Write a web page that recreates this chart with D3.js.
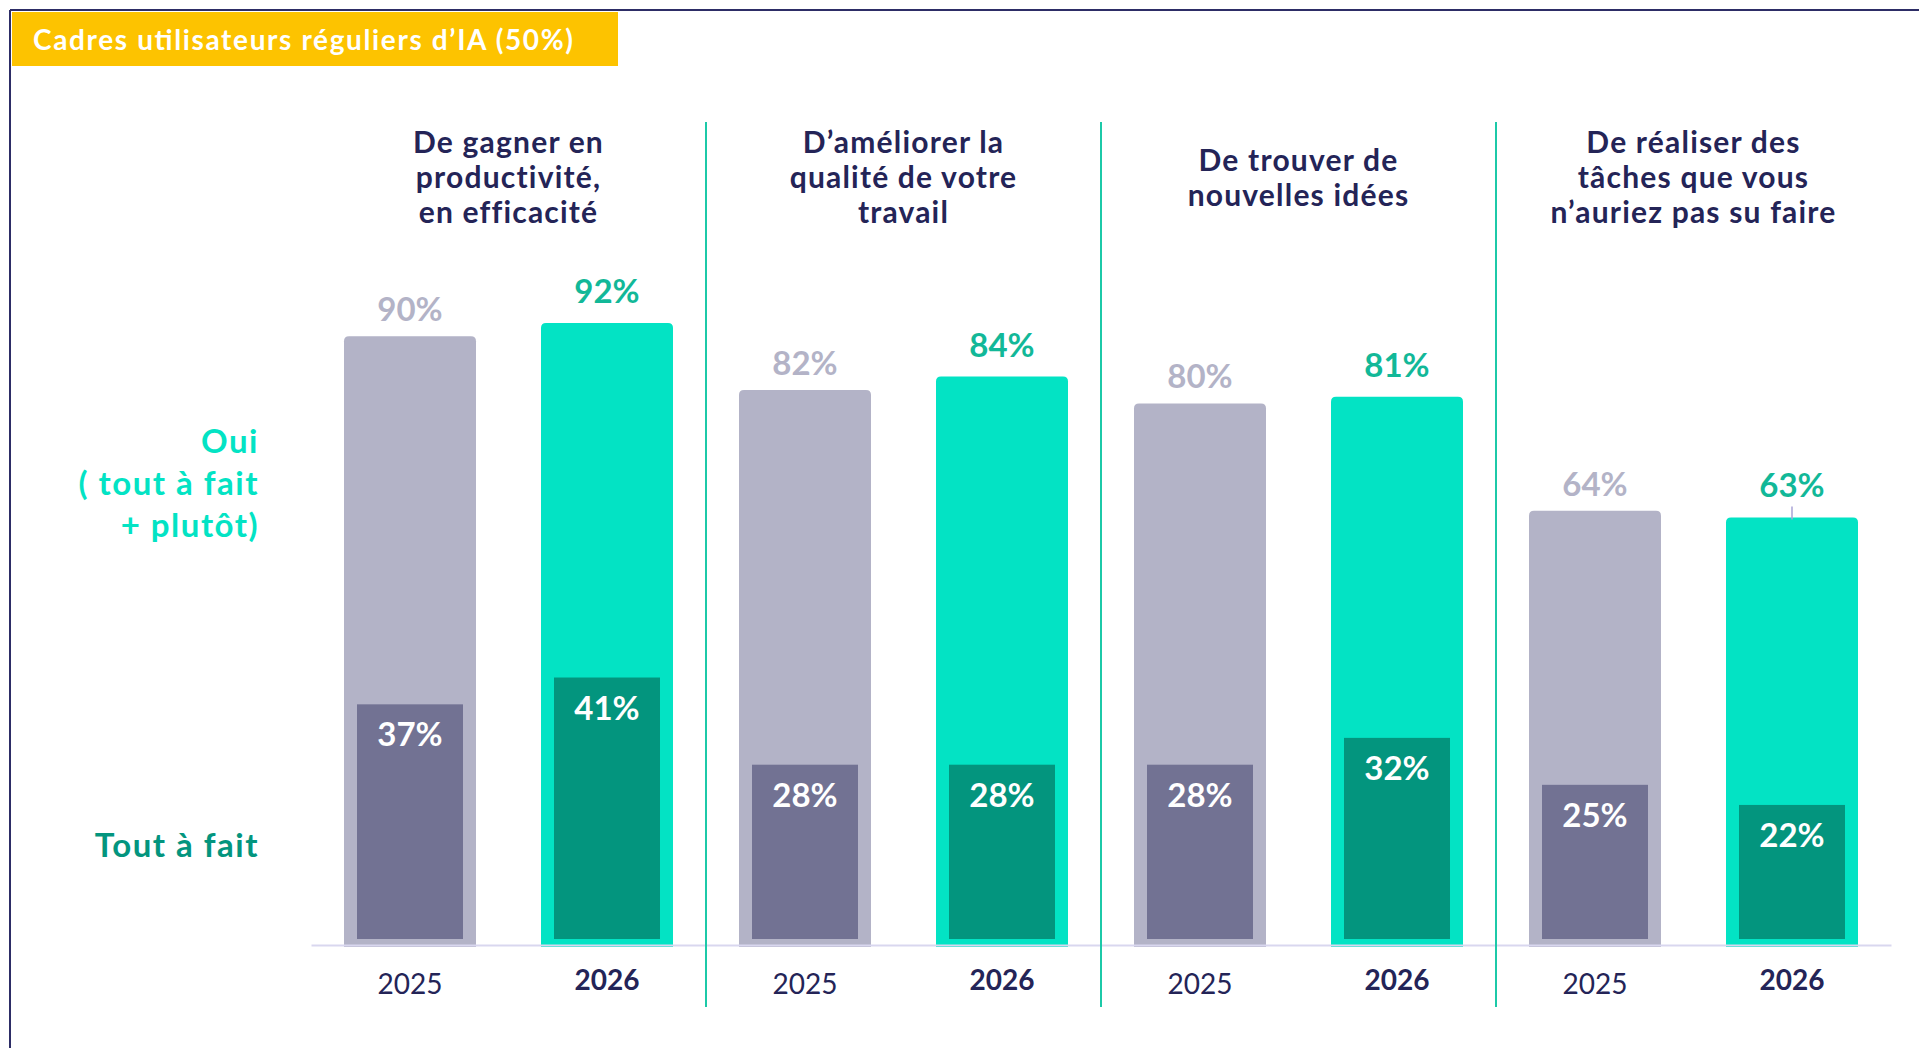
<!DOCTYPE html>
<html><head><meta charset="utf-8">
<script src="https://cdn.jsdelivr.net/npm/d3@7"></script>
<style>html,body{margin:0;padding:0;background:#fff;overflow:hidden}svg{display:block;font-family:Lato,"Open Sans",sans-serif}</style>
</head><body>
<svg id="c" width="1919" height="1048"></svg>
<script>
const title = "Cadres utilisateurs réguliers d’IA (50%)";
const categories = ["productivite","qualite","idees","taches"];
const categoryLines = [
  ["De gagner en","productivité,","en efficacité"],
  ["D’améliorer la","qualité de votre","travail"],
  ["De trouver de","nouvelles idées"],
  ["De réaliser des","tâches que vous","n’auriez pas su faire"]
];
const years = ["2025","2026"];
const oui2025 = [90,82,80,64];
const oui2026 = [92,84,81,63];
const tout2025 = [37,28,28,25];
const tout2026 = [41,28,32,22];
const rowLabelOui = ["Oui","( tout à fait","+ plutôt)"];
const rowLabelTout = "Tout à fait";

const col = {
  frame:"#2d2d66", yellow:"#fdc300", navy:"#242457",
  g1:"#b3b3c7", g2:"#727293", t1:"#03e3c4", t2:"#03957e",
  tLabel:"#12b898", divider:"#1cc9a8", axis:"#d9d7ef"
};

const svg = d3.select("#c");
// frame
svg.append("line").attr("x1",10).attr("x2",1919).attr("y1",10).attr("y2",10).attr("stroke",col.frame).attr("stroke-width",2);
svg.append("line").attr("x1",10).attr("x2",10).attr("y1",10).attr("y2",1048).attr("stroke",col.frame).attr("stroke-width",2);
// title box
svg.append("rect").attr("x",12).attr("y",12).attr("width",606).attr("height",54).attr("fill",col.yellow);
svg.append("text").attr("x",33).attr("y",50).attr("fill","#fff").attr("font-weight",700).attr("font-size",28)
  .attr("textLength",540).attr("lengthAdjust","spacing").text(title);

const x0 = d3.scaleBand().domain(categories).range([311,1891]).paddingInner(0).paddingOuter(0);
const x1 = d3.scaleBand().domain(years).range([0,x0.bandwidth()]).paddingInner(0.33).paddingOuter(0.1675);
const y = d3.scaleLinear().domain([0,100]).range([940,269.3]);
const barBottom = y(0)+7;
const innerBottom = y(0)-1;
const innerInset = 13;
const innerTopOffset = 12.5;

// axis
const axisG = svg.append("g").attr("transform",`translate(0,${y(0)+5})`)
  .call(d3.axisBottom(x0).tickSize(0).tickFormat(""));
axisG.select(".domain").attr("stroke",col.axis).attr("stroke-width",2);

const rows = [];
categories.forEach((c,i)=>{
  rows.push({cat:c, year:"2025", oui:oui2025[i], tout:tout2025[i]});
  rows.push({cat:c, year:"2026", oui:oui2026[i], tout:tout2026[i]});
});

const bw = x1.bandwidth();
const g = svg.append("g");
function topRounded(x,yt,w,yb,r){
  return `M${x},${yb}V${yt+r}Q${x},${yt} ${x+r},${yt}H${x+w-r}Q${x+w},${yt} ${x+w},${yt+r}V${yb}Z`;
}
g.selectAll("path.outer").data(rows).join("path").attr("class","outer")
  .attr("d",d=>topRounded(x0(d.cat)+x1(d.year), y(d.oui), bw, barBottom, 5))
  .attr("fill",d=>d.year==="2025"?col.g1:col.t1);
g.selectAll("rect.inner").data(rows).join("rect").attr("class","inner")
  .attr("x",d=>x0(d.cat)+x1(d.year)+innerInset)
  .attr("y",d=>y(d.tout)+innerTopOffset)
  .attr("width",bw-2*innerInset)
  .attr("height",d=>innerBottom-(y(d.tout)+innerTopOffset))
  .attr("fill",d=>d.year==="2025"?col.g2:col.t2);
svg.node().appendChild(axisG.node());

// small tick mark above 63% bar
const last = rows[rows.length-1];
svg.append("line").attr("x1",x0(last.cat)+x1(last.year)+bw/2).attr("x2",x0(last.cat)+x1(last.year)+bw/2)
  .attr("y1",y(last.oui)-11).attr("y2",y(last.oui)+2).attr("stroke","#a9a3d6").attr("stroke-width",1.5);

// top labels
g.selectAll("text.top").data(rows).join("text").attr("class","top")
  .attr("x",d=>x0(d.cat)+x1(d.year)+bw/2).attr("y",d=>y(d.oui)-(d.year==="2025"?15:20))
  .attr("text-anchor","middle").attr("font-size",33).attr("font-weight",700)
  .attr("fill",d=>d.year==="2025"?col.g1:col.tLabel).text(d=>d.oui+"%");
// inner labels
g.selectAll("text.in").data(rows).join("text").attr("class","in")
  .attr("x",d=>x0(d.cat)+x1(d.year)+bw/2).attr("y",d=>y(d.tout)+innerTopOffset+42)
  .attr("text-anchor","middle").attr("font-size",33).attr("font-weight",700)
  .attr("fill","#fff").text(d=>d.tout+"%");
// year labels
g.selectAll("text.yr").data(rows).join("text").attr("class","yr")
  .attr("x",d=>x0(d.cat)+x1(d.year)+bw/2).attr("y",d=>d.year==="2025"?994:990)
  .attr("text-anchor","middle").attr("font-size",28)
  .attr("font-weight",d=>d.year==="2025"?400:700)
  .attr("fill",col.navy).text(d=>d.year);

// category headers
categories.forEach((c,i)=>{
  const lines = categoryLines[i];
  const cx = x0(c)+x0.bandwidth()/2;
  const mid = 188, lh = 35;
  const start = mid - (lines.length-1)/2*lh;
  const t = svg.append("text").attr("text-anchor","middle").attr("font-size",30).attr("font-weight",700)
    .attr("letter-spacing",1.2).attr("fill",col.navy);
  lines.forEach((l,j)=>t.append("tspan").attr("x",cx).attr("y",start+j*lh).text(l));
});
// dividers
categories.slice(1).forEach(c=>{
  const xx = x0(c);
  svg.append("line").attr("x1",xx).attr("x2",xx).attr("y1",122).attr("y2",1007).attr("stroke",col.divider).attr("stroke-width",2);
});

// row labels
const ouiT = svg.append("text").attr("text-anchor","end").attr("font-size",33).attr("font-weight",700)
  .attr("letter-spacing",1.5).attr("fill",col.t1);
rowLabelOui.forEach((l,j)=>ouiT.append("tspan").attr("x",259).attr("y",453+j*42).text(l));
svg.append("text").attr("text-anchor","end").attr("x",259).attr("y",857).attr("font-size",33).attr("font-weight",700)
  .attr("letter-spacing",1.5).attr("fill",col.t2).text(rowLabelTout);
</script>
</body></html>
